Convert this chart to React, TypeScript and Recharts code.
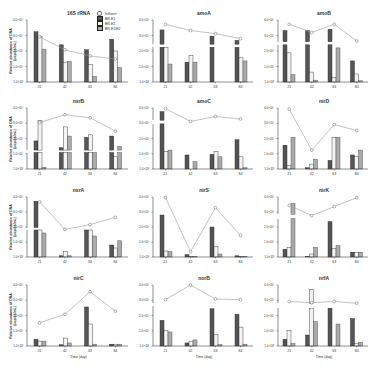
import React from 'react';
import { ComposedChart, Bar, Line, XAxis, YAxis } from 'recharts';

const days = ['21', '42', '63', '84'];
const seriesNames = ['Influent', 'BR-E1', 'BR-E2', 'BR-E1/E2'];
const titles = ['16S rRNA', 'amoA', 'amoB', 'nxrB', 'amoC', 'nirD', 'nxrA', 'nirS', 'nirK', 'nirC', 'norB', 'nrfA'];
const yTicks = [0, 25, 50, 75, 100];
const yTickLabels = ['1.0×10⁰', '1.0×10⁵', '2.0×10⁵', '3.0×10⁵', '4.0×10⁵'];

// relative abundance (scaled units)
const rrnaDark = [81, 60, 52, 69];
const rrnaWhite = [74, 32, 28, 50];
const rrnaGray = [53, 33, 9, 23];
const rrnaLine = [73, 52, 42, 37];

const amoADark = [84, 32, 74, 67];
const amoAWhite = [56, 43, 0, 39];
const amoAGray = [29, 32, 0, 34];
const amoALine = [93, 83, 78, 70];

const amoBDark = [83, 83, 85, 34];
const amoBWhite = [47, 16, 7, 13];
const amoBGray = [12, 3, 55, 2];
const amoBLine = [93, 80, 93, 66];

const nxrBDark = [46, 35, 52, 54];
const nxrBWhite = [80, 69, 56, 20];
const nxrBGray = [3, 54, 31, 37];
const nxrBLine = [76, 89, 84, 62];

const amoCDark = [94, 23, 24, 48];
const amoCWhite = [29, 0, 29, 20];
const amoCGray = [31, 12, 20, 2];
const amoCLine = [99, 78, 86, 82];

const nirDDark = [39, 2, 14, 23];
const nirDWhite = [6, 8, 52, 20];
const nirDGray = [52, 16, 52, 31];
const nirDLine = [98, 31, 73, 63];

const nxrADark = [93, 2, 48, 20];
const nxrAWhite = [45, 9, 46, 15];
const nxrAGray = [40, 2, 35, 27];
const nxrALine = [92, 46, 54, 66];

const nirSDark = [70, 4, 50, 2];
const nirSWhite = [10, 1, 18, 1];
const nirSGray = [9, 1, 5, 1];
const nirSLine = [99, 9, 82, 36];

const nirKDark = [13, 1, 59, 8];
const nirKWhite = [16, 5, 14, 8];
const nirKGray = [89, 16, 19, 8];
const nirKLine = [86, 69, 84, 99];

const nirCDark = [11, 2, 64, 3];
const nirCWhite = [8, 13, 36, 3];
const nirCGray = [8, 5, 3, 3];
const nirCLine = [38, 52, 89, 57];

const norBDark = [42, 5, 61, 52];
const norBWhite = [25, 8, 19, 31];
const norBGray = [23, 10, 2, 3];
const norBLine = [76, 100, 77, 76];

const nrfADark = [11, 18, 70, 45];
const nrfAWhite = [25, 93, 0, 4];
const nrfAGray = [4, 40, 36, 6];
const nrfALine = [73, 71, 73, 70];

const panelSeries = [
  [rrnaDark, rrnaWhite, rrnaGray, rrnaLine],
  [amoADark, amoAWhite, amoAGray, amoALine],
  [amoBDark, amoBWhite, amoBGray, amoBLine],
  [nxrBDark, nxrBWhite, nxrBGray, nxrBLine],
  [amoCDark, amoCWhite, amoCGray, amoCLine],
  [nirDDark, nirDWhite, nirDGray, nirDLine],
  [nxrADark, nxrAWhite, nxrAGray, nxrALine],
  [nirSDark, nirSWhite, nirSGray, nirSLine],
  [nirKDark, nirKWhite, nirKGray, nirKLine],
  [nirCDark, nirCWhite, nirCGray, nirCLine],
  [norBDark, norBWhite, norBGray, norBLine],
  [nrfADark, nrfAWhite, nrfAGray, nrfALine],
];

// axis break bands (scaled units), null = no break
const breaks: (number[] | null)[] = [
  null, [56, 61], [60, 65], [27, 31], [74, 80], null,
  [45, 49], null, [64, 71], null, [65, 71], [62, 70],
];

const colAxisX = [27, 153, 278];
const colRight = [128, 253, 368];
const rowTop = [20, 108, 197, 285];
const rowBottom = [82, 169, 257, 346];

const FONT = 'Liberation Sans, Arial, sans-serif';
const PLOT_TOP = 12;
const X_H = 10;

function makeShape(plotTop: number, plotBottom: number, br: number[] | null, fill: string, stroke: string) {
  return (props: any) => {
    const { x, y, width, height } = props;
    if (!height || height <= 0) return <g />;
    const yb = y + height;
    if (!br) {
      return <rect x={x} y={y} width={width} height={height} fill={fill} stroke={stroke} strokeWidth={0.4} />;
    }
    const h = plotBottom - plotTop;
    const gTop = plotBottom - (br[1] / 100) * h;
    const gBot = plotBottom - (br[0] / 100) * h;
    if (y >= gBot) {
      return <rect x={x} y={y} width={width} height={height} fill={fill} stroke={stroke} strokeWidth={0.4} />;
    }
    const parts = [];
    parts.push(<rect key="b" x={x} y={gBot} width={width} height={yb - gBot} fill={fill} stroke={stroke} strokeWidth={0.4} />);
    if (y < gTop) {
      parts.push(<rect key="t" x={x} y={y} width={width} height={gTop - y} fill={fill} stroke={stroke} strokeWidth={0.4} />);
    }
    return <g>{parts}</g>;
  };
}

function Panel({ idx }: { idx: number }) {
  const r = Math.floor(idx / 3);
  const c = idx % 3;
  const yW = 24;
  const left = colAxisX[c] - yW;
  const top = rowTop[r] - PLOT_TOP;
  const width = colRight[c] - left + 2;
  const height = rowBottom[r] - rowTop[r] + PLOT_TOP + X_H;
  const [d, w, g, l] = panelSeries[idx];
  const data = days.map((day, i) => ({ day, d: d[i], w: w[i], g: g[i], l: l[i] }));
  const br = breaks[idx];
  const plotBottom = height - X_H;
  const ph = plotBottom - PLOT_TOP;
  return (
    <div style={{ position: 'absolute', left, top, width, height }}>
      <div
        style={{
          position: 'absolute',
          left: yW,
          width: width - yW,
          top: 2,
          textAlign: 'center',
          fontSize: 5,
          fontWeight: 'bold',
          fontFamily: FONT,
          color: '#333',
          lineHeight: '6px',
        }}
      >
        {titles[idx]}
      </div>
      <ComposedChart
        width={width}
        height={height}
        data={data}
        margin={{ top: PLOT_TOP, right: 2, bottom: 0, left: 0 }}
        barGap={0}
        barCategoryGap="22%"
      >
        <XAxis
          dataKey="day"
          height={X_H}
          tick={{ fontSize: 3.5, fill: '#333', fontFamily: FONT }}
          tickSize={1.5}
          axisLine={{ stroke: '#444', strokeWidth: 0.6 }}
          tickLine={{ stroke: '#444', strokeWidth: 0.5 }}
        />
        <YAxis
          yAxisId="b"
          width={yW}
          domain={[0, 100]}
          ticks={yTicks}
          tickFormatter={(v: number) => yTickLabels[yTicks.indexOf(v)]}
          tick={{ fontSize: 3, fill: '#333', fontFamily: FONT }}
          tickSize={1.5}
          axisLine={{ stroke: '#444', strokeWidth: 0.6 }}
          tickLine={{ stroke: '#444', strokeWidth: 0.5 }}
          interval={0}
        />
        <YAxis yAxisId="l" orientation="right" hide domain={[0, 100]} />
        <Bar yAxisId="b" dataKey="d" name={seriesNames[1]} fill="#555" barSize={4} isAnimationActive={false}
          shape={makeShape(PLOT_TOP, plotBottom, br, '#555', '#222')} />
        <Bar yAxisId="b" dataKey="w" name={seriesNames[2]} fill="#f4f4f4" barSize={4} isAnimationActive={false}
          shape={makeShape(PLOT_TOP, plotBottom, br, '#f4f4f4', '#222')} />
        <Bar yAxisId="b" dataKey="g" name={seriesNames[3]} fill="#aaa" barSize={4} isAnimationActive={false}
          shape={makeShape(PLOT_TOP, plotBottom, br, '#aaa', '#444')} />
        <Line
          yAxisId="l"
          dataKey="l"
          name={seriesNames[0]}
          stroke="#999"
          strokeWidth={0.6}
          dot={{ r: 1.4, fill: '#fff', stroke: '#666', strokeWidth: 0.5 }}
          isAnimationActive={false}
        />
      </ComposedChart>
      {br ? (
        <div
          style={{
            position: 'absolute',
            left: yW - 2,
            width: 4,
            top: plotBottom - (br[1] / 100) * ph,
            height: ((br[1] - br[0]) / 100) * ph,
            background: '#fff',
          }}
        />
      ) : null}
      {r === 3 ? (
        <div
          style={{
            position: 'absolute',
            left: yW,
            width: width - yW,
            top: height - 1,
            textAlign: 'center',
            fontSize: 3.5,
            fontFamily: FONT,
            color: '#333',
          }}
        >
          Time (day)
        </div>
      ) : null}
      {c === 0 ? (
        <div
          style={{
            position: 'absolute',
            left: -20,
            top: PLOT_TOP + ph / 2 - 4,
            width: 60,
            textAlign: 'center',
            fontSize: 3.5,
            lineHeight: '4px',
            fontFamily: FONT,
            fontWeight: 'bold',
            color: '#333',
            transform: 'rotate(-90deg)',
          }}
        >
          Relative abundance of DNA
          <br />
          (copies/mL)
        </div>
      ) : null}
    </div>
  );
}

function LegendBox() {
  const swatches = [
    { name: seriesNames[0], type: 'line' },
    { name: seriesNames[1], fill: '#555' },
    { name: seriesNames[2], fill: '#f4f4f4' },
    { name: seriesNames[3], fill: '#aaa' },
  ];
  return (
    <div style={{ position: 'absolute', left: 97, top: 11, fontFamily: FONT, fontSize: 3.5, color: '#333' }}>
      {swatches.map((s) => (
        <div key={s.name} style={{ display: 'flex', alignItems: 'center', height: 5 }}>
          {s.type === 'line' ? (
            <div style={{ width: 3, height: 3, borderRadius: 2, border: '0.5px solid #666', background: '#fff', marginRight: 3 }} />
          ) : (
            <div style={{ width: 4, height: 3, background: s.fill, border: '0.5px solid #222', marginRight: 2 }} />
          )}
          <span>{s.name}</span>
        </div>
      ))}
    </div>
  );
}

export default function App() {
  return (
    <div style={{ position: 'absolute', left: 0, top: 0, width: 388, height: 367, background: '#fff', overflow: 'hidden' }}>
      {titles.map((t, i) => (
        <Panel key={t} idx={i} />
      ))}
      <LegendBox />
    </div>
  );
}
